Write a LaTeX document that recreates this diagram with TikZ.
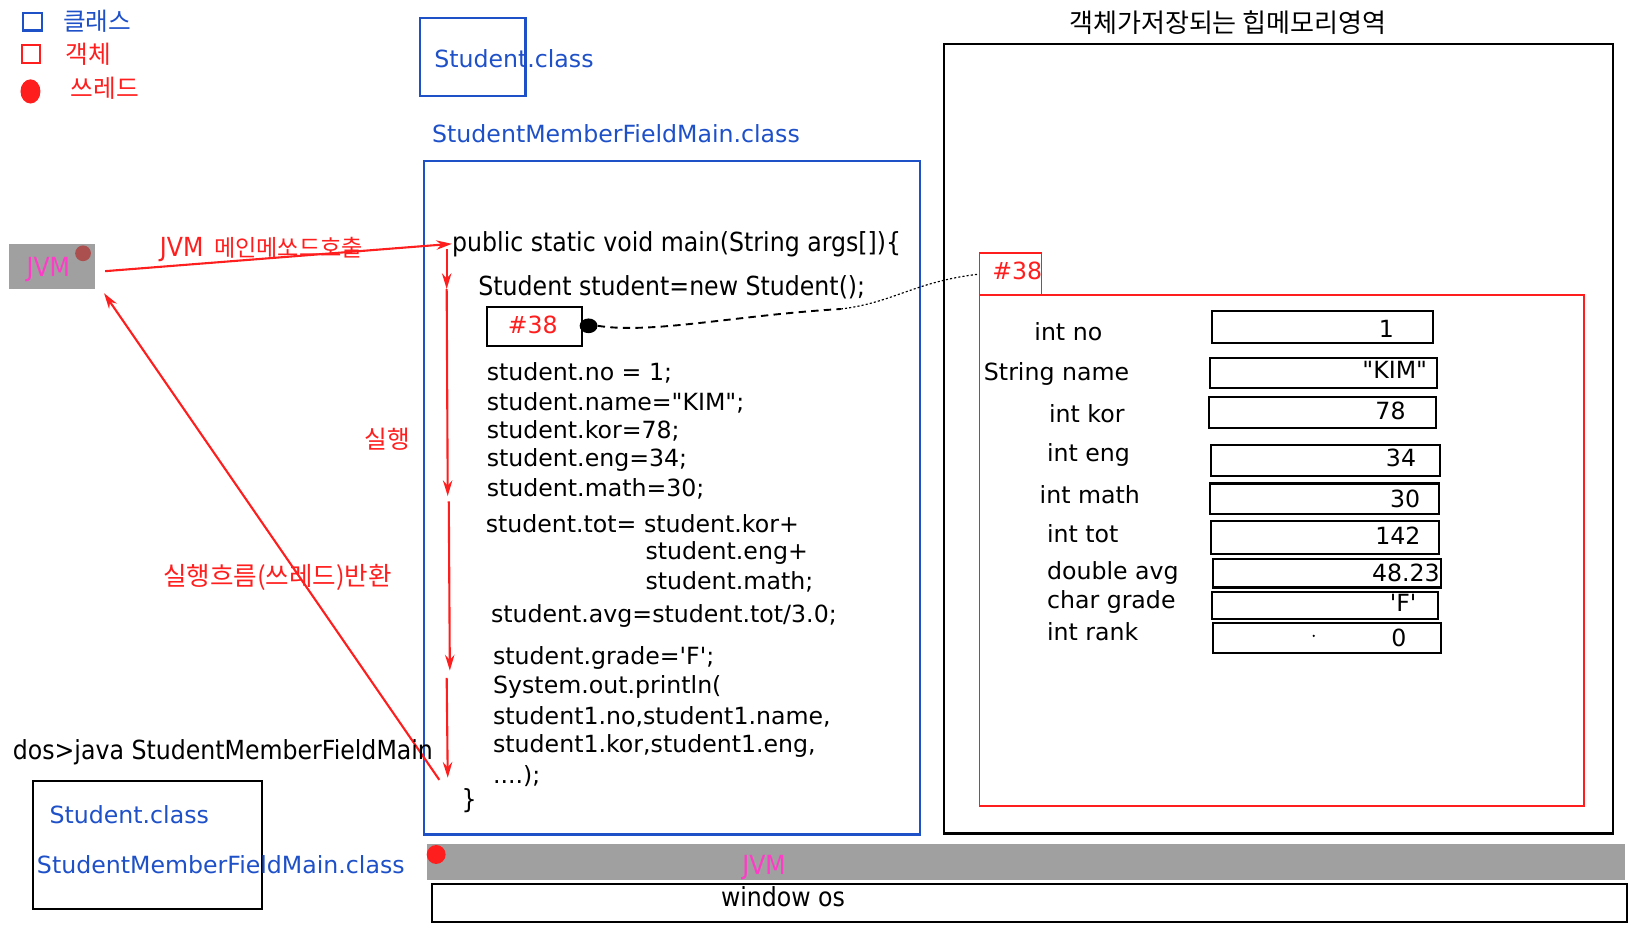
\documentclass[tikz,border=0pt]{standalone}
\usepackage{fontspec}
\setmainfont{DejaVu Sans}[Ligatures=TeXOff]
\newfontfamily\nrw{DejaVu Sans}[FakeStretch=0.9,Ligatures=TeXOff]
\newfontfamily\kr{Noto Sans CJK KR}
\usetikzlibrary{arrows.meta,shapes.geometric}
\definecolor{cblue}{RGB}{30,80,200}
\definecolor{cred}{RGB}{255,30,30}
\definecolor{cmag}{RGB}{255,60,200}
\definecolor{cgray}{RGB}{160,160,160}
\definecolor{cdot}{RGB}{175,65,65}
\begin{document}
\begin{tikzpicture}[x=1pt,y=-1pt,
  txt/.style={inner sep=0pt, anchor=west, font=\fontsize{22.5}{27}\selectfont},
  ntxt/.style={inner sep=0pt, anchor=west, font=\nrw\fontsize{25}{30}\selectfont},
  ktxt/.style={inner sep=0pt, anchor=west, font=\kr\fontsize{23.5}{28}\selectfont},
  valbox/.style={draw=black, line width=2pt, rectangle, inner sep=0pt, anchor=north west},
  valtxt/.style={inner sep=0pt, font=\fontsize{22.5}{27}\selectfont},
  rarr/.style={draw=cred, line width=2pt, -{Stealth[length=15pt,width=9pt,inset=5pt]}},
]
\useasboundingbox (0,0) rectangle (1568,882);

% legend
\node[draw=cblue, line width=2pt, minimum width=18pt, minimum height=17pt, inner sep=0pt, anchor=north west] (lgc) at (21,11) {};
\node[ktxt, text=cblue] (lgct) at (60,20) {클래스};
\node[draw=cred, line width=2pt, minimum width=17pt, minimum height=17pt, inner sep=0pt, anchor=north west] (lgo) at (20,42) {};
\node[ktxt, text=cred] (lgot) at (62,52) {객체};
\node[fill=cred, ellipse, minimum width=19pt, minimum height=23pt, inner sep=0pt] (lgt) at (29,87) {};
\node[ktxt, text=cred] (lgtt) at (67,84) {쓰레드};

% Student.class top
\node[draw=cblue, line width=2pt, minimum width=100pt, minimum height=74pt, inner sep=0pt, anchor=north west] (stbox) at (399,16) {};
\node[txt, text=cblue] (sttxt) at (413,56) {Student.class};
\node[txt, text=cblue] (smfm) at (411,127) {StudentMemberFieldMain.class};

% main code box
\node[draw=cblue, line width=2pt, minimum width=472pt, minimum height=641pt, inner sep=0pt, anchor=north west] (codebox) at (402,152) {};

\node[ntxt] (pub) at (430,232) {public static void main(String args[])\{};
\node[ntxt] (newst) at (455,273) {Student student=new Student();};
\node[draw=black, line width=2pt, minimum width=91pt, minimum height=37pt, inner sep=0pt, anchor=north west] (refbox) at (462,291) {};
\node[txt, text=cred] (ref38) at (483,309) {\#38};
\node[fill=black, ellipse, minimum width=17pt, minimum height=14pt, inner sep=0pt] (refdot) at (560,310) {};

\node[txt] (l1) at (463,355) {student.no = 1;};
\node[txt] (l2) at (463,383) {student.name="KIM";};
\node[txt] (l3) at (463,410) {student.kor=78;};
\node[txt] (l4) at (463,438) {student.eng=34;};
\node[txt] (l5) at (463,465) {student.math=30;};
\node[txt] (l6) at (462,498) {student.tot= student.kor+};
\node[txt] (l7) at (614,526) {student.eng+};
\node[txt] (l8) at (614,554) {student.math;};
\node[txt] (l9) at (467,586) {student.avg=student.tot/3.0;};
\node[txt] (l10) at (469,626) {student.grade='F';};
\node[txt] (l11) at (469,654) {System.out.println(};
\node[txt] (l12) at (469,682) {student1.no,student1.name,};
\node[txt] (l13) at (469,710) {student1.kor,student1.eng,};
\node[txt] (l14) at (469,738) {....);};
\node[ntxt] (l15) at (439,762) {\}};

% heap
\node[ktxt, font=\kr\fontsize{24.8}{29}\selectfont] (heapt) at (1017,22) {객체가저장되는 힙메모리영역};
\node[draw=black, line width=2pt, minimum width=637pt, minimum height=751pt, inner sep=0pt, anchor=north west] (heap) at (897,41) {};
\node[draw=cred, line width=1.8pt, minimum width=59pt, minimum height=40pt, inner sep=0pt, anchor=north west] (h38) at (931,240) {};
\node[txt, text=cred] (h38t) at (944,258) {\#38};
\node[draw=cred, line width=1.8pt, minimum width=575pt, minimum height=486pt, inner sep=0pt, anchor=north west] (obj) at (931,280) {};

\node[txt] (f1) at (984,316) {int no};
\node[txt] (f2) at (936,356) {String name};
\node[txt] (f3) at (998,394) {int kor};
\node[txt] (f4) at (996,433) {int eng};
\node[txt] (f5) at (989,471) {int math};
\node[txt] (f6) at (996,508) {int tot};
\node[txt] (f7) at (996,545) {double avg};
\node[txt] (f8) at (996,573) {char grade};
\node[txt] (f9) at (996,601) {int rank};

\node[valbox, minimum width=210pt, minimum height=30pt] (v1) at (1152,295) {};
\node[valbox, minimum width=216pt, minimum height=28pt] (v2) at (1150,340) {};
\node[valbox, minimum width=216pt, minimum height=29pt] (v3) at (1149,377) {};
\node[valbox, minimum width=218pt, minimum height=30pt] (v4) at (1151,422) {};
\node[valbox, minimum width=218pt, minimum height=29pt] (v5) at (1150,459) {};
\node[valbox, minimum width=217pt, minimum height=31pt] (v6) at (1151,495) {};
\node[valbox, minimum width=217pt, minimum height=27pt] (v7) at (1153,531) {};
\node[valbox, minimum width=215pt, minimum height=26pt] (v8) at (1152,562) {};
\node[valbox, minimum width=217pt, minimum height=28pt] (v9) at (1153,592) {};

\node[valtxt] (w1) at (1319,313) {1};
\node[valtxt, anchor=east] (w2) at (1358,352) {"KIM"};
\node[valtxt] (w3) at (1323,391) {78};
\node[valtxt] (w4) at (1333,436) {34};
\node[valtxt] (w5) at (1337,475) {30};
\node[valtxt] (w6) at (1330,510) {142};
\node[valtxt, anchor=east] (w7) at (1370,545) {48.23};
\node[valtxt] (w8) at (1335,574) {'F'};
\node[valtxt] (w9) at (1331,607) {0};
\node[fill=black, circle, minimum size=2.5pt, inner sep=0pt] (w9dot) at (1250,605) {};

% reference connector
\coordinate (cm) at (800,294);
\draw[line width=1.8pt, dash pattern=on 7pt off 5pt] (refdot.east) .. controls (620,318) and (700,300) .. (cm);
\draw[line width=1.1pt, dash pattern=on 2pt off 2pt] (cm) .. controls (850,288) and (870,268) .. (h38.west);

% JVM box
\node[fill=cgray, minimum width=82pt, minimum height=43pt, inner sep=0pt, anchor=north west] (jvm) at (8,232) {};
\node[ntxt, anchor=center, text=cmag] (jvmt) at (46,256) {JVM};
\node[fill=cdot, circle, minimum size=15pt, inner sep=0pt, opacity=0.85] (jvmdot) at (79,241) {};

% call arrow
\coordinate (cs) at (100,258);
\draw[rarr] (cs) -- (pub.west);
\node[ntxt, text=cred] (callt) at (152,237) {JVM\hspace{10pt}{\kr\fontsize{22}{26}\selectfont 메인메쏘드호출}};

% execution arrows
\coordinate (e0) at (425,237);
\coordinate (e1) at (425,275);
\coordinate (e2) at (426,472);
\coordinate (e3) at (427,477);
\coordinate (e4) at (428,638);
\coordinate (e5) at (425,645);
\coordinate (e6) at (426,740);
\draw[rarr] (e0) -- (e1);
\draw[rarr] (e1) -- (e2);
\draw[rarr] (e3) -- (e4);
\draw[rarr] (e5) -- (e6);
\node[ktxt, text=cred] (runt) at (347,418) {실행};

% return arrow
\coordinate (rs) at (418,742);
\coordinate (re) at (99,279);
\draw[rarr] (rs) -- (re);
\node[ktxt, text=cred, font=\kr\fontsize{24.3}{28}\selectfont] (rett) at (155,549) {실행흐름(쓰레드)반환};

% dos
\node[ntxt] (dos) at (12,716) {dos>java StudentMemberFieldMain};
\node[draw=black, line width=2pt, minimum width=218pt, minimum height=122pt, inner sep=0pt, anchor=north west] (dosbox) at (30,742) {};
\node[txt, text=cblue] (d1) at (47,775) {Student.class};
\node[txt, text=cblue] (d2) at (35,823) {StudentMemberFieldMain.class};

% bottom JVM and OS
\node[fill=cgray, minimum width=1140pt, minimum height=34pt, inner sep=0pt, anchor=north west] (jvmbar) at (406,803) {};
\node[fill=cred, circle, minimum size=18pt, inner sep=0pt] (jvmbardot) at (415,813) {};
\node[ntxt, anchor=center, text=cmag] (jvmbart) at (727,825) {JVM};
\node[draw=black, line width=2pt, minimum width=1137pt, minimum height=36pt, inner sep=0pt, anchor=north west] (os) at (410,840) {};
\node[ntxt, anchor=center] (ost) at (745,853) {window os};
\end{tikzpicture}
\end{document}
